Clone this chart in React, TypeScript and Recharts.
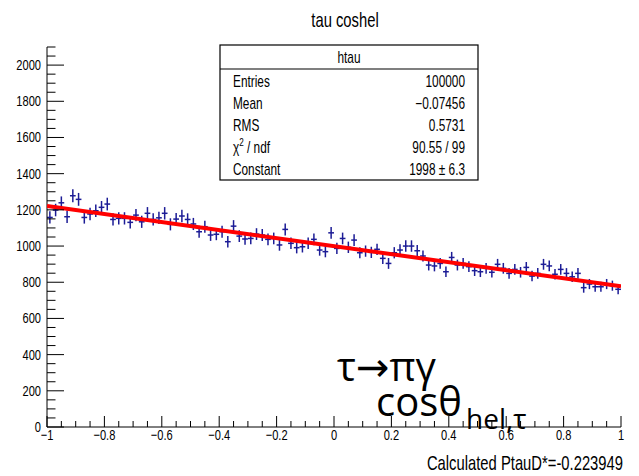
import React from 'react';
import { ScatterChart, Scatter, XAxis, YAxis, ErrorBar } from 'recharts';

// ---- data ----
const chartTitle = 'tau coshel';
const binLow = -1;
const binHigh = 1;
const counts = [
  1158, 1199, 1239, 1162, 1278, 1258, 1158, 1177, 1195, 1214,
  1232, 1147, 1153, 1153, 1131, 1171, 1134, 1181, 1147, 1156,
  1181, 1120, 1149, 1166, 1147, 1122, 1079, 1107, 1061, 1065,
  1079, 1024, 1110, 1055, 1039, 1042, 1066, 1061, 1037, 1042,
  1006, 1092, 1015, 991, 996, 1015, 1037, 978, 969, 1073,
  987, 1042, 993, 1033, 963, 972, 965, 982, 932, 904,
  963, 978, 1000, 1000, 974, 945, 895, 890, 904, 858,
  937, 895, 904, 886, 864, 858, 877, 855, 899, 877,
  849, 871, 855, 882, 834, 849, 899, 890, 844, 871,
  849, 830, 849, 770, 790, 775, 775, 790, 781, 761,
];
const fitX = [-1, 1];
const fitY = [1221, 778];

const xMajorTicks = [-1, -0.8, -0.6, -0.4, -0.2, 0, 0.2, 0.4, 0.6, 0.8, 1];
const yMajorTicks = [0, 200, 400, 600, 800, 1000, 1200, 1400, 1600, 1800, 2000];
const yMax = 2100;

const statTitle = 'htau';
const statLabels = ['Entries', 'Mean', 'RMS', 'chi2/ndf', 'Constant'];
const statValues = ['100000', '\u22120.07456', '0.5731', '90.55 / 99', '1998 \u00b1 6.3'];
const footerText = 'Calculated PtauD*=-0.223949';

// ---- derived tables ----
const binWidth = (binHigh - binLow) / counts.length;
const histData = counts.map((c, i) => ({
  x: binLow + binWidth * (i + 0.5),
  y: c,
  ex: binWidth / 2,
  ey: Math.sqrt(c),
}));
const fitData = fitX.map((x, i) => ({ x, y: fitY[i] }));

const xTicks: number[] = [];
for (let i = 0; i <= 40; i++) xTicks.push(Math.round((binLow + i * 0.05) * 100) / 100);
const yTicks: number[] = [];
for (let v = 0; v <= yMax; v += 50) yTicks.push(v);

const isIn = (arr: number[], v: number) => arr.some((a) => Math.abs(a - v) < 1e-6);
const fmtX = (v: number) => String(Math.round(v * 10) / 10).replace('-', '\u2212');

const ROOTFONT = "'Liberation Sans', Arial, Helvetica, sans-serif";
const PPTFONT = "'Open Sans', 'Noto Sans', 'DejaVu Sans', sans-serif";
const SX = 0.74;

function SqText(props: any) {
  const { x, y, size, anchor = 'start', children, fill = '#000' } = props;
  return (
    <text
      transform={`translate(${x},${y}) scale(${SX},1)`}
      fontFamily={ROOTFONT}
      fontSize={size}
      textAnchor={anchor}
      fill={fill}
    >
      {children}
    </text>
  );
}

function XTick(props: any) {
  const { x, y, payload } = props;
  const v = payload.value;
  const major = isIn(xMajorTicks, v);
  return (
    <g>
      <line x1={x} x2={x} y1={y} y2={y - (major ? 11 : 6)} stroke="#000" strokeWidth={1} />
      {major && (
        <SqText x={x} y={y + 13} size={15} anchor="middle">
          {fmtX(v)}
        </SqText>
      )}
    </g>
  );
}

function YTick(props: any) {
  const { x, y, payload } = props;
  const v = payload.value;
  const major = isIn(yMajorTicks, v);
  return (
    <g>
      <line x1={x} x2={x + (major ? 17 : 8.5)} y1={y} y2={y} stroke="#000" strokeWidth={1} />
      {major && (
        <SqText x={x - 6} y={y + 5} size={15} anchor="end">
          {String(v)}
        </SqText>
      )}
    </g>
  );
}

const NoShape = () => null;

export default function App() {
  const statX0 = 220;
  const statX1 = 478;
  const statY0 = 45;
  const statY1 = 180;
  const statHeader = 69;
  return (
    <div style={{ position: 'absolute', left: 0, top: 0, width: 639, height: 476, background: '#fff' }}>
      <ScatterChart width={639} height={476} margin={{ top: 47, right: 18, bottom: 9, left: 7 }}>
        <XAxis
          type="number"
          dataKey="x"
          domain={[binLow, binHigh]}
          ticks={xTicks}
          interval={0}
          tickLine={false}
          tickSize={0}
          tickMargin={0}
          height={40}
          axisLine={{ stroke: '#000', strokeWidth: 1 }}
          tick={(p: any) => <XTick {...p} />}
          allowDataOverflow
        />
        <YAxis
          type="number"
          dataKey="y"
          domain={[0, yMax]}
          ticks={yTicks}
          interval={0}
          tickLine={false}
          tickSize={0}
          tickMargin={0}
          width={40}
          axisLine={{ stroke: '#000', strokeWidth: 1 }}
          tick={(p: any) => <YTick {...p} />}
          allowDataOverflow
        />
        <XAxis
          xAxisId="top"
          orientation="top"
          type="number"
          dataKey="x"
          domain={[binLow, binHigh]}
          tick={false}
          tickLine={false}
          height={0}
          axisLine={{ stroke: '#333', strokeWidth: 2 }}
        />
        <YAxis
          yAxisId="right"
          orientation="right"
          type="number"
          dataKey="y"
          domain={[0, yMax]}
          tick={false}
          tickLine={false}
          width={0}
          axisLine={{ stroke: '#666', strokeWidth: 2 }}
        />
        <Scatter data={histData} shape={NoShape} isAnimationActive={false} fill="#1c1c96">
          <ErrorBar dataKey="ey" direction="y" width={0} stroke="#1c1c96" strokeWidth={1.5} />
          <ErrorBar dataKey="ex" direction="x" width={0} stroke="#1c1c96" strokeWidth={1.5} />
        </Scatter>
        <Scatter
          data={fitData}
          shape={NoShape}
          line={{ stroke: '#ff0000', strokeWidth: 4 }}
          lineType="joint"
          isAnimationActive={false}
          fill="#ff0000"
        />
      </ScatterChart>
      <svg
        width={639}
        height={476}
        style={{ position: 'absolute', left: 0, top: 0, pointerEvents: 'none' }}
      >
        <SqText x={345} y={27} size={20} anchor="middle">
          {chartTitle}
        </SqText>
        <rect x={statX0} y={statY0} width={statX1 - statX0} height={statY1 - statY0} fill="#fff" stroke="#000" strokeWidth={1.2} />
        <line x1={statX0} x2={statX1} y1={statHeader} y2={statHeader} stroke="#000" strokeWidth={1.2} />
        <SqText x={(statX0 + statX1) / 2} y={63} size={16} anchor="middle">
          {statTitle}
        </SqText>
        {statLabels.map((lab, i) => (
          <g key={lab}>
            {lab === 'chi2/ndf' ? (
              <text
                transform={`translate(233,${87 + i * 22}) scale(${SX},1)`}
                fontFamily={ROOTFONT}
                fontSize={16}
              >
                {'\u03c7'}
                <tspan fontSize={11} dy={-7}>2</tspan>
                <tspan dy={7}>{' / ndf'}</tspan>
              </text>
            ) : (
              <SqText x={233} y={87 + i * 22} size={16}>
                {lab}
              </SqText>
            )}
            <SqText x={465} y={87 + i * 22} size={16} anchor="end">
              {statValues[i]}
            </SqText>
          </g>
        ))}
        <SqText x={623} y={470} size={20} anchor="end">
          {footerText}
        </SqText>
        <text x={337} y={381} fontFamily={PPTFONT} fontSize={40} fill="#000">
          {'\u03c4\u2192\u03c0\u03b3'}
        </text>
        <text x={376} y={416} fontFamily={PPTFONT} fontSize={40} fill="#000">
          {'cos\u03b8'}
        </text>
        <text x={466} y={429} fontFamily={PPTFONT} fontSize={28} fill="#000">
          {'hel,\u03c4'}
        </text>
      </svg>
    </div>
  );
}
